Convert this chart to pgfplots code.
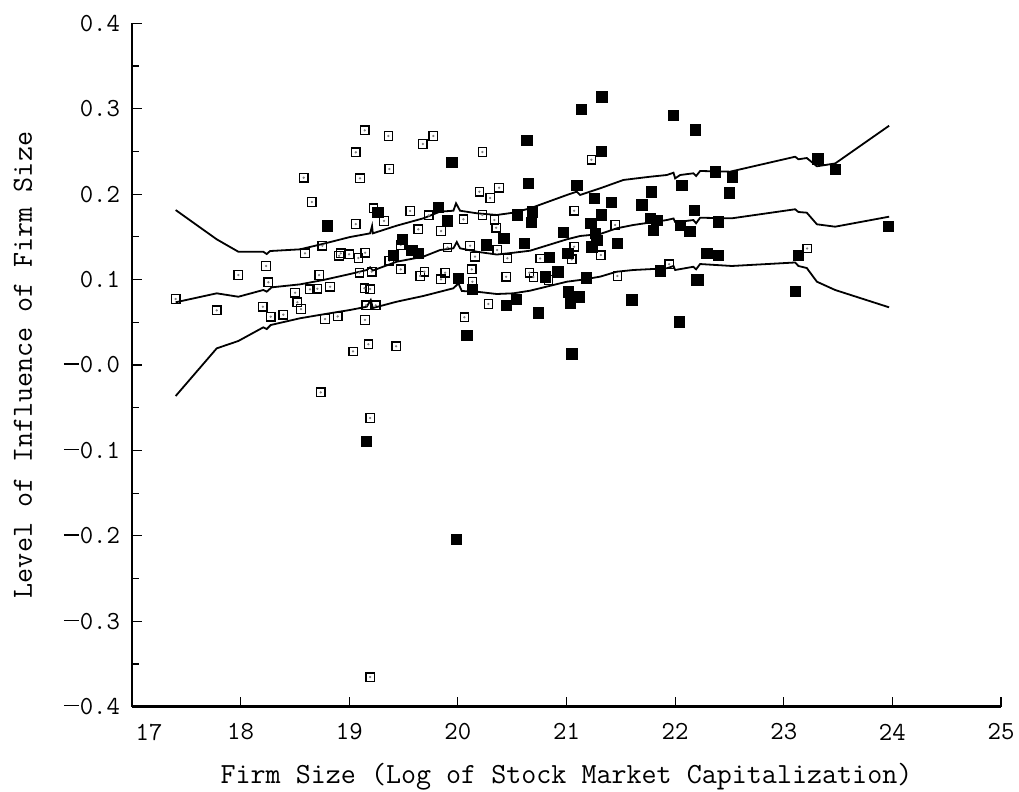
\documentclass[border=0pt]{standalone}
\usepackage{fontspec}
\usepackage{pgfplots}
\pgfplotsset{compat=1.18}
\usepackage{pgfplotstable}

\newcommand{\tickfont}{\fontsize{13}{15}\selectfont\ttfamily}
\newcommand{\labelfont}{\fontsize{14.6}{17}\selectfont\ttfamily}
\newcommand{\mn}{\rule[4.1pt]{7.5pt}{0.65pt}\hspace{0.4pt}}

\pgfplotstableread{
x y
17.402 0.0772
17.979 0.1053
18.234 0.1159
18.255 0.0968
17.780 0.0640
18.204 0.0682
18.277 0.0565
18.393 0.0589
18.501 0.0846
18.522 0.0734
18.556 0.0655
18.639 0.0886
18.706 0.0893
18.722 0.1053
18.823 0.0916
18.593 0.1307
18.752 0.1396
18.906 0.1279
18.922 0.1307
18.777 0.0538
18.894 0.0568
18.738 -0.0320
19.035 0.0159
18.581 0.2192
18.655 0.1908
19.143 0.2747
19.360 0.2681
19.677 0.2587
19.774 0.2681
19.060 0.2490
20.226 0.2493
19.369 0.2294
19.099 0.2185
20.198 0.2029
20.297 0.1955
20.379 0.2075
19.222 0.1834
19.560 0.1803
19.732 0.1752
20.051 0.1705
20.336 0.1697
20.226 0.1756
19.320 0.1686
19.060 0.1650
19.636 0.1588
20.352 0.1607
19.845 0.1568
19.474 0.1405
19.905 0.1375
20.112 0.1396
20.361 0.1346
18.998 0.1296
19.147 0.1314
19.084 0.1252
19.369 0.1221
19.474 0.1120
19.652 0.1042
19.692 0.1092
20.158 0.1268
20.456 0.1249
19.093 0.1080
19.207 0.1092
19.139 0.0898
19.192 0.0889
19.882 0.1080
19.845 0.1003
20.128 0.1120
20.134 0.0975
20.444 0.1033
20.658 0.1080
20.281 0.0714
19.155 0.0699
19.244 0.0699
19.145 0.0527
20.060 0.0558
19.176 0.0242
19.431 0.0219
21.229 0.2403
21.070 0.1806
21.448 0.1639
21.316 0.1287
21.070 0.1385
20.757 0.1247
21.049 0.1237
20.695 0.1030
20.833 0.0995
21.469 0.1042
21.945 0.1179
23.215 0.1364
19.192 -0.0621
19.192 -0.3653
}\openpts

\pgfplotstableread{
x y
21.325 0.3141
21.134 0.2993
21.984 0.2926
22.184 0.2751
20.634 0.2628
21.319 0.2505
19.944 0.2376
23.312 0.2415
23.473 0.2294
22.368 0.2263
22.528 0.2204
20.649 0.2127
21.095 0.2103
22.060 0.2107
22.497 0.2017
21.254 0.1951
21.779 0.2029
21.411 0.1904
21.693 0.1873
22.178 0.1814
20.548 0.1756
20.686 0.1794
20.674 0.1670
21.319 0.1756
21.770 0.1717
21.831 0.1697
21.800 0.1580
22.046 0.1633
22.134 0.1568
22.399 0.1677
21.224 0.1659
21.263 0.1542
20.971 0.1553
20.421 0.1483
20.612 0.1424
21.279 0.1463
21.470 0.1424
21.233 0.1385
20.843 0.1258
21.012 0.1307
20.803 0.1033
20.920 0.1092
21.180 0.1022
21.862 0.1104
22.200 0.0995
20.444 0.0702
20.536 0.0769
21.017 0.0858
21.119 0.0799
21.033 0.0722
20.741 0.0612
21.601 0.0761
22.041 0.0507
21.049 0.0129
19.262 0.1787
19.820 0.1846
19.903 0.1686
18.800 0.1631
19.489 0.1471
19.406 0.1287
19.575 0.1346
19.636 0.1305
20.260 0.1405
20.005 0.1015
20.134 0.0886
20.082 0.0351
22.292 0.1307
22.399 0.1287
22.215 0.0995
23.135 0.1282
23.105 0.0863
23.964 0.1627
19.155 -0.0890
19.983 -0.2037
}\filledpts

\pgfplotstableread{
x y
17.402 0.1814
17.780 0.1471
17.979 0.1326
18.209 0.1326
18.240 0.1299
18.271 0.1334
18.547 0.1354
18.752 0.1416
19.007 0.1498
19.192 0.1541
19.210 0.1627
19.217 0.1541
19.437 0.1631
19.682 0.1717
19.836 0.1795
19.959 0.1806
19.983 0.1893
20.020 0.1806
20.174 0.1776
20.358 0.1756
20.511 0.1783
20.665 0.1834
21.003 0.1990
21.095 0.2029
21.125 0.1990
21.309 0.2068
21.524 0.2166
21.770 0.2204
21.924 0.2224
21.985 0.2251
22.000 0.2185
22.046 0.2224
22.168 0.2244
22.193 0.2212
22.230 0.2271
22.506 0.2263
23.105 0.2438
23.135 0.2408
23.212 0.2423
23.305 0.2326
23.473 0.2359
23.970 0.2801
}\upperline

\pgfplotstableread{
x y
17.402 0.0734
17.780 0.0839
17.979 0.0799
18.209 0.0878
18.240 0.0858
18.286 0.0909
18.547 0.0944
18.761 0.0995
19.007 0.1065
19.161 0.1112
19.192 0.1143
19.217 0.1106
19.437 0.1209
19.682 0.1268
19.836 0.1346
19.959 0.1366
19.990 0.1440
20.020 0.1366
20.174 0.1326
20.358 0.1293
20.511 0.1314
20.665 0.1338
21.003 0.1471
21.125 0.1510
21.309 0.1533
21.462 0.1600
21.616 0.1639
21.924 0.1697
21.985 0.1715
22.000 0.1674
22.046 0.1677
22.168 0.1697
22.193 0.1659
22.230 0.1724
22.522 0.1717
23.105 0.1823
23.135 0.1791
23.212 0.1783
23.305 0.1647
23.473 0.1619
23.970 0.1736
}\midline

\pgfplotstableread{
x y
17.402 -0.0363
17.780 0.0195
17.979 0.0281
18.209 0.0441
18.240 0.0421
18.277 0.0468
18.547 0.0547
18.761 0.0593
19.007 0.0644
19.161 0.0682
19.198 0.0761
19.217 0.0667
19.437 0.0741
19.682 0.0808
19.836 0.0858
19.959 0.0898
20.005 0.0956
20.036 0.0866
20.174 0.0858
20.358 0.0831
20.511 0.0839
20.665 0.0870
21.003 0.0975
21.125 0.0995
21.309 0.1034
21.462 0.1092
21.616 0.1112
21.924 0.1132
21.985 0.1159
22.000 0.1112
22.168 0.1150
22.193 0.1120
22.230 0.1182
22.522 0.1159
23.105 0.1200
23.135 0.1159
23.212 0.1135
23.305 0.0975
23.473 0.0878
23.970 0.0675
}\lowerline

\begin{document}
\begin{tikzpicture}
\begin{axis}[
  scale only axis, width=434.5pt, height=341.7pt,
  xmin=17, xmax=25, ymin=-0.4, ymax=0.4,
  axis x line=bottom, axis y line=left,
  axis line style={-, line width=1.4pt},
  every tick/.style={black, line width=0.6pt},
  tick align=inside,
  major tick length=5pt, minor tick length=3.3pt,
  xtick={17,18,19,20,21,22,23,24,25},
  xticklabels={\hspace*{17pt}17,18,19,20,21,22,23,24,25},
  ytick={-0.4,-0.3,-0.2,-0.1,0,0.1,0.2,0.3,0.4},
  yticklabels={\mn 0.4,\mn 0.3,\mn 0.2,\mn 0.1,\mn 0.0,0.1,0.2,0.3,0.4},
  minor y tick num=1,
  xticklabel style={font=\tickfont, yshift=-5pt},
  yticklabel style={font=\tickfont, xshift=-2.5pt},
  xlabel={Firm Size (Log of Stock Market Capitalization)},
  ylabel={Level of Influence of Firm Size},
  every axis x label/.style={at={(axis description cs:0.5,-0.1118)}, anchor=base, font=\labelfont},
  every axis y label/.style={at={(axis description cs:-0.1151,0.5)}, rotate=90, anchor=base, font=\labelfont},
]
\addplot[only marks, mark=square, mark size=2.1pt, mark options={draw=black, line width=0.65pt}] table {\openpts};
\addplot[only marks, mark=*, mark size=0.35pt, mark options={draw=gray, fill=gray}] table {\openpts};
\addplot[only marks, mark=square*, mark size=2.6pt, mark options={draw=black, fill=black, line width=0.3pt}] table {\filledpts};
\addplot[black, line width=0.9pt] table {\upperline};
\addplot[black, line width=0.9pt] table {\midline};
\addplot[black, line width=0.9pt] table {\lowerline};
\end{axis}
\pgfresetboundingbox
\path[use as bounding box] ([xshift=-66pt,yshift=-42.15pt]current axis.south west) rectangle ([xshift=9pt,yshift=11.65pt]current axis.north east);
\end{tikzpicture}
\end{document}
